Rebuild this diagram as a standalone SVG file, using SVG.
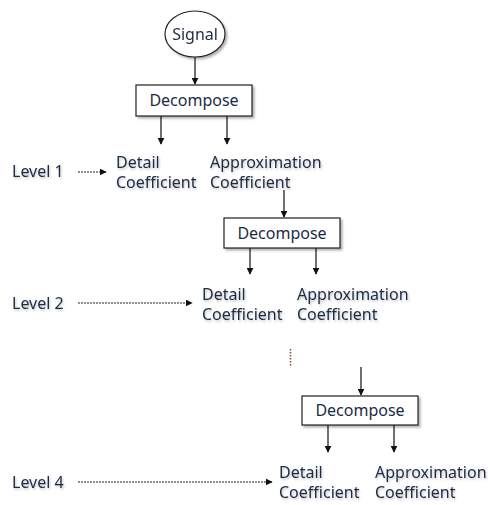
<svg xmlns="http://www.w3.org/2000/svg" width="488" height="505" viewBox="0 0 488 505">
<style>
text{font-family:"Noto Sans","Open Sans",sans-serif;font-size:16px;fill:#1c2b45}
.box{fill:#fff;stroke:#222;stroke-width:1.2}
.ln{stroke:#111;stroke-width:1.2;fill:none}
.dash{stroke:#222;stroke-width:1;stroke-dasharray:2 1;fill:none}
</style>
<defs>
<marker id="ah" viewBox="0 0 10 10" refX="9" refY="5" markerWidth="7" markerHeight="7" orient="auto" markerUnits="userSpaceOnUse">
<path d="M0,0 L10,5 L0,10 z" fill="#111"/>
</marker>
<filter id="sh" x="-10%" y="-10%" width="130%" height="140%">
<feDropShadow dx="2" dy="2" stdDeviation="1.2" flood-color="#000" flood-opacity="0.3"/>
</filter>
<filter id="tsh" x="-10%" y="-20%" width="130%" height="160%">
<feDropShadow dx="1" dy="1.5" stdDeviation="0.8" flood-color="#000" flood-opacity="0.25"/>
</filter>
</defs>
<g id="connectors">
<line class="ln" x1="195" y1="57" x2="195" y2="84" marker-end="url(#ah)"/>
<line class="ln" x1="161" y1="116" x2="161" y2="144" marker-end="url(#ah)"/>
<line class="ln" x1="227" y1="116" x2="227" y2="144" marker-end="url(#ah)"/>
<line class="ln" x1="284" y1="190" x2="284" y2="217" marker-end="url(#ah)"/>
<line class="ln" x1="250" y1="248" x2="250" y2="274" marker-end="url(#ah)"/>
<line class="ln" x1="316" y1="248" x2="316" y2="274" marker-end="url(#ah)"/>
<line class="ln" x1="361" y1="367" x2="361" y2="395" marker-end="url(#ah)"/>
<line class="ln" x1="328" y1="425" x2="328" y2="452" marker-end="url(#ah)"/>
<line class="ln" x1="394" y1="425" x2="394" y2="452" marker-end="url(#ah)"/>
<line class="dash" x1="78" y1="172" x2="106" y2="172" marker-end="url(#ah)"/>
<line class="dash" x1="78" y1="303" x2="192" y2="303" marker-end="url(#ah)"/>
<line class="dash" x1="78" y1="482" x2="272" y2="482" marker-end="url(#ah)"/>
<line x1="290.5" y1="349" x2="290.5" y2="367" stroke="#8a4a1a" stroke-width="1.5" stroke-dasharray="1.5 1.5"/>
</g>
<g id="signal" filter="url(#sh)">
<ellipse cx="195" cy="34" rx="30" ry="23" fill="#fff" stroke="#222" stroke-width="1.2"/>
<text x="195" y="40" text-anchor="middle">Signal</text>
</g>
<g id="decompose1">
<rect class="box" x="136" y="85" width="116" height="31" filter="url(#sh)"/>
<text x="194" y="106" text-anchor="middle">Decompose</text>
</g>
<g id="detail1" filter="url(#tsh)">
<text x="116" y="168">Detail</text>
<text x="116" y="188">Coefficient</text>
</g>
<g id="approx1" filter="url(#tsh)">
<text x="210" y="168">Approximation</text>
<text x="210" y="188">Coefficient</text>
</g>
<g id="level1" filter="url(#tsh)"><text x="12" y="177">Level 1</text></g>
<g id="decompose2">
<rect class="box" x="224" y="218" width="116" height="30" filter="url(#sh)"/>
<text x="282" y="239" text-anchor="middle">Decompose</text>
</g>
<g id="detail2" filter="url(#tsh)">
<text x="202" y="300">Detail</text>
<text x="202" y="320">Coefficient</text>
</g>
<g id="approx2" filter="url(#tsh)">
<text x="297" y="300">Approximation</text>
<text x="297" y="320">Coefficient</text>
</g>
<g id="level2" filter="url(#tsh)"><text x="12" y="309">Level 2</text></g>
<g id="decompose3">
<rect class="box" x="302" y="396" width="116" height="29" filter="url(#sh)"/>
<text x="360" y="416" text-anchor="middle">Decompose</text>
</g>
<g id="detail3" filter="url(#tsh)">
<text x="279" y="478">Detail</text>
<text x="279" y="498">Coefficient</text>
</g>
<g id="approx3" filter="url(#tsh)">
<text x="375" y="478">Approximation</text>
<text x="375" y="498">Coefficient</text>
</g>
<g id="level4" filter="url(#tsh)"><text x="12" y="488">Level 4</text></g>
</svg>
